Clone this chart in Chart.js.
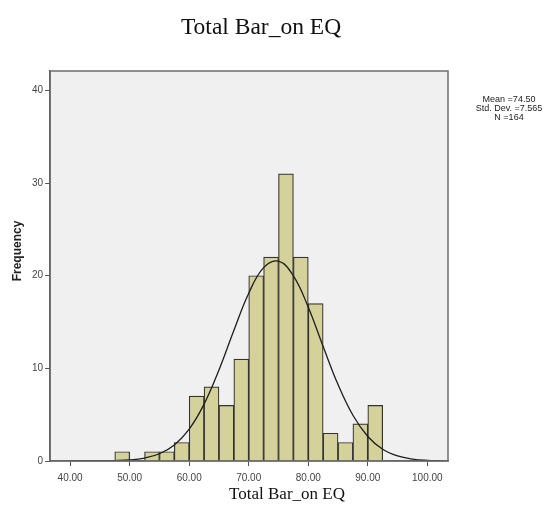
<!DOCTYPE html>
<html>
<head>
<meta charset="utf-8">
<title>Total Bar_on EQ</title>
<script src="https://cdn.jsdelivr.net/npm/chart.js"></script>
<style>
  html, body { margin: 0; padding: 0; background: #fff; }
  #wrap { width: 557px; height: 514px; position: relative; }
</style>
</head>
<body>
<div id="wrap"><canvas id="c"></canvas></div>
<script>
// histogram bins (lower edge, width 2.5) and counts
const binLow = [47.5, 50, 52.5, 55, 57.5, 60, 62.5, 65, 67.5, 70, 72.5, 75, 77.5, 80, 82.5, 85, 87.5, 90];
const counts = [1, 0, 1, 1, 2, 7, 8, 6, 11, 20, 22, 31, 22, 17, 3, 2, 4, 6];
const binWidth = 2.5;

// normal curve heights, estimated along the drawn line
const curveX = [40, 42.5, 45, 47.5, 50, 52.5, 55, 57.5, 60, 62.5, 65, 67.5, 70, 72.5, 75, 77.5, 80, 82.5, 85, 87.5, 90, 92.5, 95, 97.5, 100, 102.5];
const curveY = [0.0, 0.0, 0.01, 0.04, 0.11, 0.32, 0.78, 1.73, 3.44, 6.14, 9.83, 14.09, 18.11, 20.88, 21.57, 19.99, 16.6, 12.36, 8.25, 4.94, 2.65, 1.27, 0.55, 0.21, 0.07, 0.02];

const xTicks = [40, 50, 60, 70, 80, 90, 100];
const yTicks = [0, 10, 20, 30, 40];
const titleText = 'Total Bar_on EQ';
const xTitleText = 'Total Bar_on EQ';
const yTitleText = 'Frequency';
const statsLines = ['Mean =74.50', 'Std. Dev. =7.565', 'N =164'];

const barData = binLow.map((lo, i) => ({ x: lo + binWidth / 2, y: counts[i] }));
const lineData = curveX.map((x, i) => ({ x: x, y: curveY[i] }));

const serif = '"Liberation Serif", "Times New Roman", serif';
const sans = '"Liberation Sans", Arial, sans-serif';

const plotFrame = {
  id: 'plotFrame',
  beforeDraw(chart) {
    const a = chart.chartArea, ctx = chart.ctx;
    ctx.save();
    ctx.fillStyle = '#f0f0f0';
    ctx.fillRect(a.left, a.top, a.right - a.left, a.bottom - a.top);
    ctx.restore();
  },
  afterDraw(chart) {
    const a = chart.chartArea, ctx = chart.ctx;
    ctx.save();
    ctx.strokeStyle = '#6e6e6e';
    ctx.lineWidth = 1.5;
    ctx.strokeRect(a.left, a.top, a.right - a.left, a.bottom - a.top);
    ctx.textAlign = 'center';
    ctx.textBaseline = 'middle';
    // titles (SPSS places them off the plot centre)
    ctx.fillStyle = '#111';
    ctx.font = '23.5px ' + serif;
    ctx.fillText(titleText, 261, 28);
    ctx.font = '17px ' + serif;
    ctx.fillText(xTitleText, 287, 495);
    // y axis title
    ctx.save();
    ctx.translate(18, 251);
    ctx.rotate(-Math.PI / 2);
    ctx.fillStyle = '#222';
    ctx.font = 'bold 12px ' + sans;
    ctx.fillText(yTitleText, 0, 0);
    ctx.restore();
    // stats text beside the plot
    ctx.fillStyle = '#222';
    ctx.font = '9px ' + sans;
    statsLines.forEach((s, i) => ctx.fillText(s, 509, 100 + i * 8.7));
    ctx.restore();
  }
};

new Chart(document.getElementById('c'), {
  data: {
    datasets: [
      {
        type: 'line',
        data: lineData,
        borderColor: '#1e1e1e',
        borderWidth: 1.3,
        pointRadius: 0,
        tension: 0.4,
        fill: false,
        order: 0
      },
      {
        type: 'bar',
        data: barData,
        backgroundColor: '#d4d19a',
        borderColor: '#333',
        borderWidth: 1.2,
        barPercentage: 1,
        categoryPercentage: 1,
        order: 1
      }
    ]
  },
  options: {
    responsive: true,
    maintainAspectRatio: false,
    animation: false,
    layout: { padding: { left: 30, right: 109, top: 71, bottom: 24 } },
    plugins: {
      legend: { display: false },
      tooltip: { enabled: false },
      title: { display: false }
    },
    scales: {
      x: {
        type: 'linear',
        offset: false,
        min: 36.64,
        max: 103.47,
        afterBuildTicks(axis) { axis.ticks = xTicks.map(v => ({ value: v })); },
        ticks: {
          callback: v => v.toFixed(2),
          font: { family: sans, size: 10 },
          color: '#444',
          maxRotation: 0,
          padding: 6
        },
        grid: { offset: false, drawOnChartArea: false, drawTicks: true, tickLength: 5, color: '#555' },
        border: { display: true, color: '#555', width: 1.5 }
      },
      y: {
        type: 'linear',
        min: 0,
        max: 42.1,
        afterBuildTicks(axis) { axis.ticks = yTicks.map(v => ({ value: v })); },
        ticks: {
          font: { family: sans, size: 10 },
          color: '#444',
          padding: 2
        },
        grid: { drawOnChartArea: false, drawTicks: true, tickLength: 5, color: '#555' },
        border: { display: true, color: '#555', width: 1.5 }
      }
    }
  },
  plugins: [plotFrame]
});
</script>
</body>
</html>
